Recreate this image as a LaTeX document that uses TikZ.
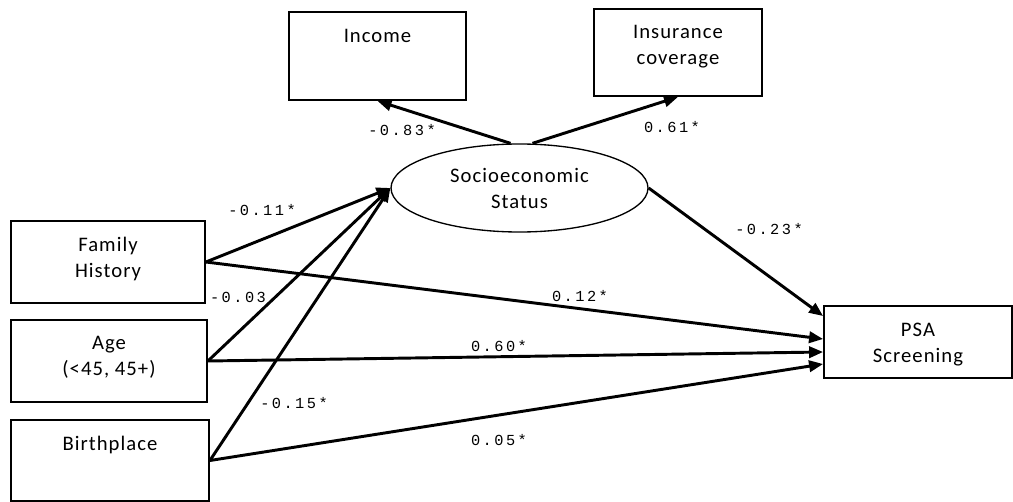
\documentclass[tikz,border=0pt]{standalone}
\usepackage{fontspec}
\setmainfont{Carlito}[LetterSpace=5]
\newfontfamily\coeffont{Liberation Mono}[LetterSpace=16]
\usetikzlibrary{positioning,arrows.meta,shapes.geometric}

\begin{document}
\begin{tikzpicture}[
  x=0.75pt, y=-0.75pt,
  font=\fontsize{15.5}{19.5}\selectfont,
  box/.style={rectangle,draw=black,line width=1.4pt,inner sep=0pt},
  txt/.style={align=center,inner sep=0pt},
  latent/.style={ellipse,draw=black,line width=1pt,minimum width=192.75pt,
                 minimum height=66pt,align=center,inner sep=0pt},
  coef/.style={font=\coeffont\fontsize{11.5}{13}\selectfont,inner sep=0pt},
  arr/.style={-{Triangle[length=10.5pt,width=8.5pt]},line width=2.2pt},
]
\useasboundingbox (0,0) rectangle (1013,502);

% ---- indicators of SES ----
\node[box,minimum width=132.75pt,minimum height=66pt] (inc) at (377.5,56) {};
\node[txt,below=13.5pt of inc.north] (incT) {Income};
\node[box,minimum width=126pt,minimum height=65.25pt] (ins) at (678,52.5) {};
\node[txt,below=12.5pt of ins.north] (insT) {Insurance\\coverage};

% ---- latent ----
\node[latent] (ses) at (519.5,188) {Socioeconomic\\Status};

% ---- predictors ----
\node[box,minimum width=145.5pt,minimum height=61.5pt] (fam) at (108,262) {};
\node[txt,below=12.5pt of fam.north] (famT) {Family\\History};
\node[box,minimum width=147pt,minimum height=61.5pt] (age) at (109,361) {};
\node[txt,below=13pt of age.north] (ageT) {Age\\(<45, 45+)};
\node[box,minimum width=148.5pt,minimum height=60.75pt] (bir) at (110,460.5) {};
\node[txt,below=12.5pt of bir.north] (birT) {Birthplace};

% ---- outcome ----
\node[box,minimum width=141pt,minimum height=54pt] (psa) at (918,342) {};
\node[txt,below=13.5pt of psa.north] (psaT) {PSA\\Screening};

% ---- paths ----
\draw[arr] ([xshift=-6.75pt]ses.north) -- (inc.south);
\draw[arr] ([xshift=9.75pt]ses.north) -- (ins.south);
\draw[arr] (ses.east) -- ([yshift=19.5pt]psa.west);
\draw[arr] (fam.east) -- (ses.west);
\draw[arr] (age.east) -- (ses.west);
\draw[arr] (bir.east) -- (ses.west);
\draw[arr] (fam.east) -- ([yshift=2.25pt]psa.west);
\draw[arr] (age.east) -- ([yshift=-7.5pt]psa.west);
\draw[arr] (bir.east) -- ([yshift=-16.5pt]psa.west);

% ---- coefficients ----
\node[coef] (cInc) at (402,130) {-0.83*};
\node[coef] (cIns) at (672,127) {0.61*};
\node[coef] (cPsa) at (769,229) {-0.23*};
\node[coef] (cFam) at (262,210) {-0.11*};
\node[coef] (cAge) at (238,297) {-0.03};
\node[coef] (dFam) at (580,296) {0.12*};
\node[coef] (dAge) at (499,346) {0.60*};
\node[coef] (cBir) at (294,403) {-0.15*};
\node[coef] (dBir) at (499,440) {0.05*};
\end{tikzpicture}
\end{document}
